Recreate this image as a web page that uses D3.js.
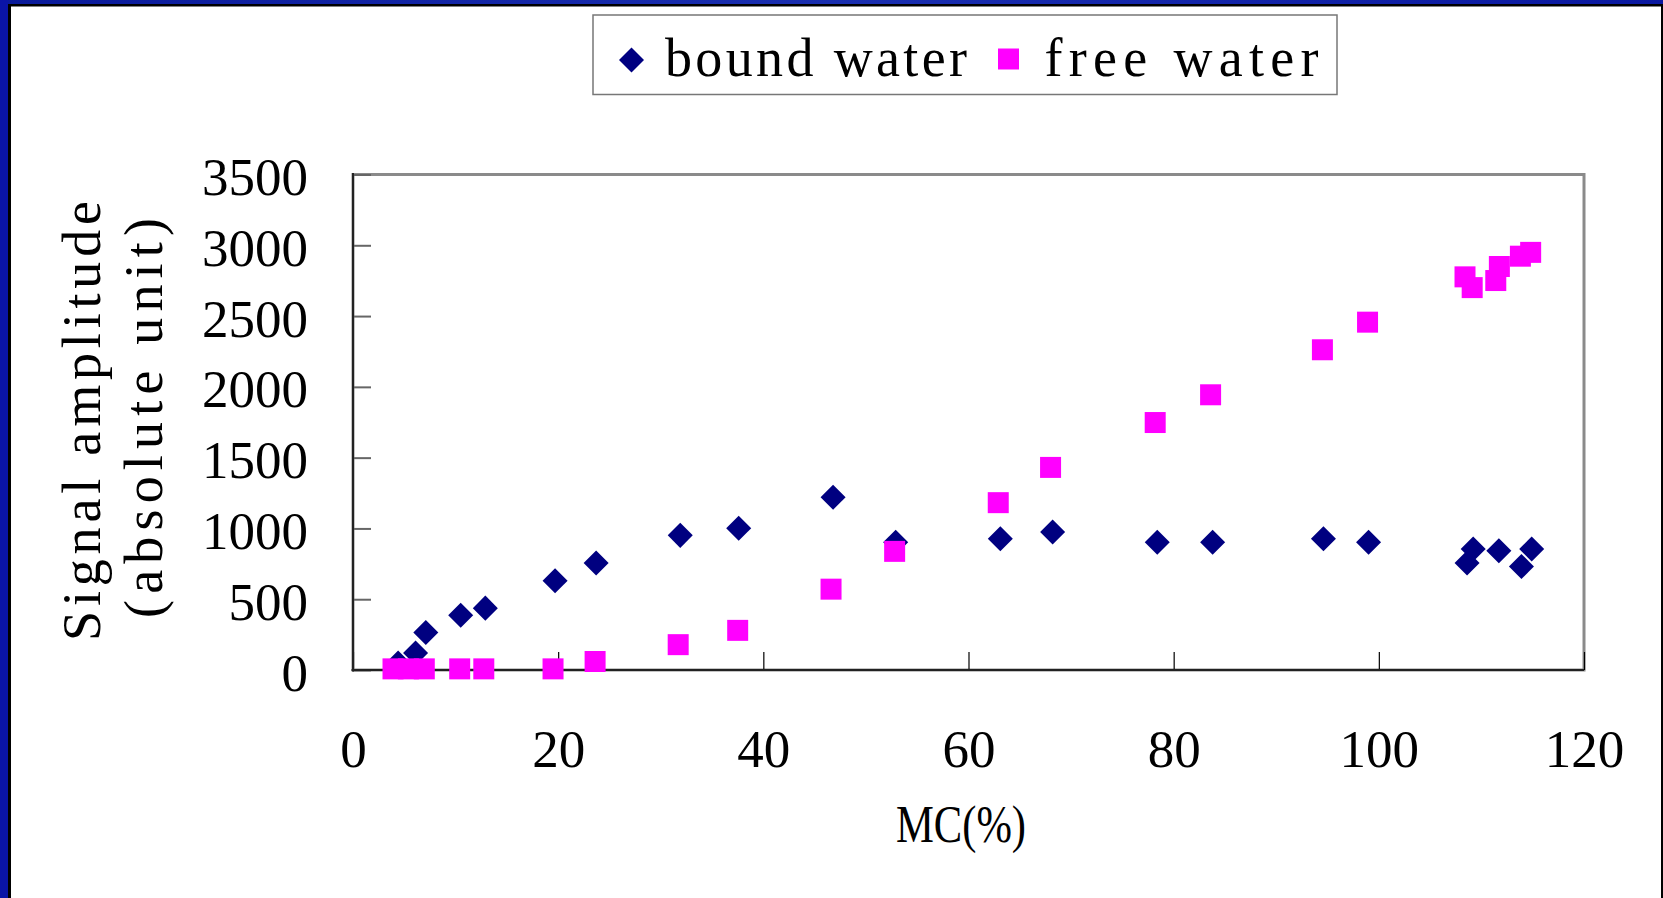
<!DOCTYPE html>
<html>
<head>
<meta charset="utf-8">
<script src="https://cdn.jsdelivr.net/npm/d3@7"></script>
<style>
  html, body { margin: 0; padding: 0; background: #ffffff; }
  svg { display: block; }
  text { font-family: "Liberation Serif", "DejaVu Serif", serif; fill: #000; }
</style>
</head>
<body>
<svg id="chart" width="1663" height="898"></svg>
<script>
// ---- data ----
const boundX = [4.4, 6.1, 7.1, 10.5, 12.9, 19.7, 23.7, 31.9, 37.6, 46.8, 52.9, 63.1, 68.2, 78.4, 83.8, 94.6, 99.0, 108.6, 109.2, 111.7, 113.9, 114.9];
const boundY = [50, 120, 265, 387, 437, 631, 755, 951, 1001, 1220, 903, 927, 975, 903, 903, 927, 903, 755, 855, 843, 731, 855];
const freeX = [3.9, 5.4, 6.95, 10.4, 12.75, 19.5, 23.6, 31.7, 37.5, 46.6, 52.8, 62.9, 68.0, 78.2, 83.6, 94.5, 98.9, 108.4, 109.1, 111.4, 111.75, 113.8, 114.8];
const freeY = [8, 8, 8, 8, 8, 8, 60, 179, 280, 571, 838, 1182, 1431, 1748, 1944, 2262, 2457, 2777, 2701, 2751, 2850, 2923, 2950];
const xTicks = [0, 20, 40, 60, 80, 100, 120];
const yTicks = [0, 500, 1000, 1500, 2000, 2500, 3000, 3500];
const seriesNames = ["bound water", "free water"];
const xTitle = "MC(%)";
const yTitle1 = "Signal amplitude";
const yTitle2 = "(absolute unit)";

const svg = d3.select("#chart");
const W = 1663, H = 898;

// slide frame
svg.append("rect").attr("x", 0).attr("y", 0).attr("width", W).attr("height", H).attr("fill", "#fff");
const grad = svg.append("defs").append("linearGradient").attr("id", "topg").attr("x1", 0).attr("x2", 1);
grad.append("stop").attr("offset", "0%").attr("stop-color", "#0a1a9a");
grad.append("stop").attr("offset", "50%").attr("stop-color", "#1a2fb0");
grad.append("stop").attr("offset", "100%").attr("stop-color", "#0a18a0");
svg.append("rect").attr("x", 0).attr("y", 0).attr("width", W).attr("height", 4).attr("fill", "url(#topg)");
svg.append("rect").attr("x", 0).attr("y", 4).attr("width", W).attr("height", 2.5).attr("fill", "#000");
svg.append("rect").attr("x", 0).attr("y", 0).attr("width", 8).attr("height", H).attr("fill", "#0a14a6");
svg.append("rect").attr("x", 8).attr("y", 4).attr("width", 3).attr("height", H).attr("fill", "#000");
svg.append("rect").attr("x", 1661).attr("y", 4).attr("width", 2).attr("height", H).attr("fill", "#000");

// plot geometry
const L = 353, R = 1584, T = 174.5, B = 670;
const x = d3.scaleLinear().domain([0, 120]).range([L, R]);
const y = d3.scaleLinear().domain([0, 3500]).range([B, T]);

// frame
svg.append("rect").attr("x", L).attr("y", T).attr("width", R - L).attr("height", B - T)
  .attr("fill", "none").attr("stroke", "#8a8a8a").attr("stroke-width", 3);

// axes
const yAxis = svg.append("g").attr("transform", `translate(${L},0)`)
  .call(d3.axisLeft(y).tickValues(yTicks).tickSize(-18).tickPadding(45).tickFormat(d3.format("d")));
yAxis.select(".domain").remove();
yAxis.selectAll(".tick line").attr("stroke", "#666").attr("stroke-width", 2);
yAxis.selectAll(".tick text").attr("font-size", 53).attr("dy", "0.38em")
  .style("font-family", '"Liberation Serif", serif').attr("fill", "#000");

const xAxis = svg.append("g").attr("transform", `translate(0,${B})`)
  .call(d3.axisBottom(x).tickValues(xTicks).tickSize(-18).tickPadding(59).tickFormat(d3.format("d")));
xAxis.select(".domain").remove();
xAxis.selectAll(".tick line").attr("stroke", "#000").attr("stroke-width", 1.2);
xAxis.selectAll(".tick text").attr("font-size", 53)
  .style("font-family", '"Liberation Serif", serif').attr("fill", "#000");

// dark axis lines
svg.append("line").attr("x1", L).attr("x2", L).attr("y1", T - 1.5).attr("y2", B + 1.5)
  .attr("stroke", "#222").attr("stroke-width", 2);
svg.append("line").attr("x1", L - 1.5).attr("x2", R).attr("y1", B).attr("y2", B)
  .attr("stroke", "#222").attr("stroke-width", 2);

// markers
const diamond = d3.symbol().type(d3.symbolSquare).size(313);
const square = d3.symbol().type(d3.symbolSquare).size(441);
const bound = boundX.map((v, i) => ({ x: v, y: boundY[i] }));
const free = freeX.map((v, i) => ({ x: v, y: freeY[i] }));

svg.append("g").selectAll("path").data(bound).join("path")
  .attr("d", diamond)
  .attr("transform", d => `translate(${x(d.x)},${y(d.y)}) rotate(45)`)
  .attr("fill", "#000080");
svg.append("g").selectAll("path").data(free).join("path")
  .attr("d", square)
  .attr("transform", d => `translate(${x(d.x)},${y(d.y)})`)
  .attr("fill", "#ff00ff");

// axis titles
svg.append("text").attr("x", 961).attr("y", 842).attr("text-anchor", "middle")
  .attr("font-size", 52).attr("textLength", 130).attr("lengthAdjust", "spacingAndGlyphs")
  .text(xTitle);
svg.append("text").attr("transform", "translate(100,421) rotate(-90)").attr("text-anchor", "middle")
  .attr("font-size", 54).attr("textLength", 440).attr("lengthAdjust", "spacing")
  .text(yTitle1);
svg.append("text").attr("transform", "translate(162,418) rotate(-90)").attr("text-anchor", "middle")
  .attr("font-size", 54).attr("textLength", 400).attr("lengthAdjust", "spacing")
  .text(yTitle2);

// legend
const lg = svg.append("g");
lg.append("rect").attr("x", 593).attr("y", 15).attr("width", 744).attr("height", 79.5)
  .attr("fill", "#fff").attr("stroke", "#777").attr("stroke-width", 1.5);
lg.append("path").attr("d", diamond).attr("transform", "translate(631.5,60) rotate(45)").attr("fill", "#000080");
lg.append("text").attr("x", 665).attr("y", 76).attr("font-size", 54)
  .attr("textLength", 302).attr("lengthAdjust", "spacing").text(seriesNames[0]);
lg.append("path").attr("d", square).attr("transform", "translate(1008.5,59)").attr("fill", "#ff00ff");
lg.append("text").attr("x", 1044.5).attr("y", 76).attr("font-size", 54)
  .attr("textLength", 274).attr("lengthAdjust", "spacing").text(seriesNames[1]);
</script>
</body>
</html>
